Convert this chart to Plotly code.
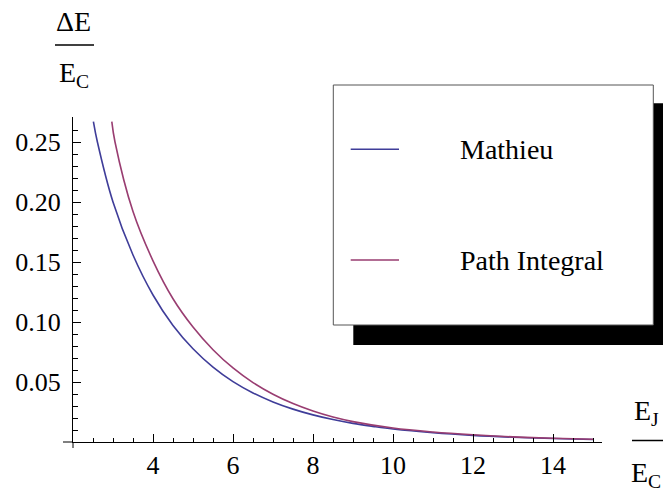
import plotly.graph_objects as go

# ---- data ----
mathieu_x = [2.51, 2.61, 3.0, 3.5, 4.0, 4.5, 5.0, 5.5, 6.0, 6.5, 7.0, 7.5, 8.0, 8.5, 9.0, 9.5, 10.0, 11.0, 12.0, 13.0, 14.0, 15.0]
mathieu_y = [0.267, 0.25, 0.20, 0.1558, 0.1225, 0.0971, 0.0777, 0.0624, 0.0503, 0.0409, 0.0334, 0.0274, 0.0226, 0.0187,
             0.0155, 0.0130, 0.0108, 0.0077, 0.0055, 0.0040, 0.0029, 0.0021]

path_x = [2.97, 3.05, 3.5, 4.0, 4.5, 5.0, 5.5, 6.0, 6.5, 7.0, 7.5, 8.0, 8.5, 9.0, 10.0, 11.0, 12.0, 13.0, 14.0, 15.0]
path_y = [0.267, 0.25, 0.192, 0.151, 0.1194, 0.0958, 0.0769, 0.0617, 0.0495, 0.0398, 0.0320, 0.0258, 0.0208, 0.0170,
          0.0116, 0.0083, 0.0060, 0.0043, 0.0031, 0.0023]

series_names = ["Mathieu", "Path Integral"]
series_colors = ["#3f3d99", "#993d71"]

x_ticks = [4, 6, 8, 10, 12, 14]
x_minor = [2.5, 3, 3.5, 4.5, 5, 5.5, 6.5, 7, 7.5, 8.5, 9, 9.5, 10.5, 11, 11.5, 12.5, 13, 13.5, 14.5, 15]
y_ticks = [0.05, 0.10, 0.15, 0.20, 0.25]
y_tick_text = ["0.05", "0.10", "0.15", "0.20", "0.25"]
y_minor = [round(0.01 * i, 2) for i in range(1, 28) if i % 5 != 0]

W, H = 663, 491
ML, MR, MT, MB = 73, 61, 117, 49
PW, PH = W - ML - MR, H - MT - MB
FONT = "Liberation Serif, Times New Roman, serif"


def px(xp):
    return (xp - ML) / PW


def py(yp):
    return (H - MB - yp) / PH


fig = go.Figure()
fig.add_trace(go.Scatter(x=mathieu_x, y=mathieu_y, mode="lines", name=series_names[0],
                         line=dict(color=series_colors[0], width=1.6, shape="spline", smoothing=1.0)))
fig.add_trace(go.Scatter(x=path_x, y=path_y, mode="lines", name=series_names[1],
                         line=dict(color=series_colors[1], width=1.6, shape="spline", smoothing=1.0)))

axis_common = dict(showline=True, linecolor="black", linewidth=1, showgrid=False, zeroline=False,
                   ticks="inside", ticklen=8, tickwidth=1, tickcolor="black", mirror=False,
                   automargin=False, tickfont=dict(family=FONT, size=26, color="black"))

fig.update_xaxes(range=[2, 2 + PW / 40.0], tickmode="array", tickvals=x_ticks,
                 ticklabelstandoff=0,
                 minor=dict(tickmode="array", tickvals=x_minor, ticks="inside", ticklen=4.5,
                            tickwidth=1, tickcolor="black", showgrid=False),
                 **axis_common)
fig.update_yaxes(range=[0, PH / 1200.0], tickmode="array", tickvals=y_ticks, ticktext=y_tick_text,
                 ticklabelstandoff=6,
                 minor=dict(tickmode="array", tickvals=y_minor, ticks="inside", ticklen=4.5,
                            tickwidth=1, tickcolor="black", showgrid=False),
                 **axis_common)

shapes = []
# axis overhangs past the crossing point
shapes.append(dict(type="line", xref="paper", yref="paper", x0=px(63), x1=0, y0=0, y1=0,
                   line=dict(color="black", width=1)))
shapes.append(dict(type="line", xref="paper", yref="paper", x0=0, x1=0, y0=py(448), y1=0,
                   line=dict(color="black", width=1)))
# legend shadow and box
shapes.append(dict(type="rect", xref="paper", yref="paper", x0=px(353.3), x1=px(690), y0=py(345), y1=py(103.3),
                   fillcolor="black", line=dict(width=0)))
shapes.append(dict(type="rect", xref="paper", yref="paper", x0=px(333.3), x1=px(653.3), y0=py(325), y1=py(85),
                   fillcolor="white", line=dict(color="#555555", width=1)))
# legend samples
for yp, col in zip([149.3, 260.0], series_colors):
    shapes.append(dict(type="line", xref="paper", yref="paper", x0=px(350.7), x1=px(399), y0=py(yp), y1=py(yp),
                       line=dict(color=col, width=1.6)))
# fraction bars of the axis labels
shapes.append(dict(type="line", xref="paper", yref="paper", x0=px(55), x1=px(94), y0=py(45), y1=py(45),
                   line=dict(color="black", width=1.5)))
shapes.append(dict(type="line", xref="paper", yref="paper", x0=px(632), x1=px(663), y0=py(440.5), y1=py(440.5),
                   line=dict(color="black", width=1.5)))

annotations = []
for yp, name in zip([149.3, 260.0], series_names):
    annotations.append(dict(text=name, xref="paper", yref="paper", x=px(458.3), y=py(yp),
                            xanchor="left", yanchor="middle", showarrow=False,
                            font=dict(family=FONT, size=28, color="black")))
label_font = dict(family=FONT, size=28, color="black")
annotations.append(dict(text="ΔE", xref="paper", yref="paper", x=px(73.5), y=py(21),
                        xanchor="center", yanchor="middle", showarrow=False, font=label_font))
annotations.append(dict(text="E<sub>C</sub>", xref="paper", yref="paper", x=px(73.5), y=py(74),
                        xanchor="center", yanchor="middle", showarrow=False, font=label_font))
annotations.append(dict(text="E<sub>J</sub>", xref="paper", yref="paper", x=px(646), y=py(412),
                        xanchor="center", yanchor="middle", showarrow=False, font=label_font))
annotations.append(dict(text="E<sub>C</sub>", xref="paper", yref="paper", x=px(646), y=py(474),
                        xanchor="center", yanchor="middle", showarrow=False, font=label_font))

fig.update_layout(width=W, height=H, margin=dict(l=ML, r=MR, t=MT, b=MB, pad=0),
                  paper_bgcolor="white", plot_bgcolor="white", showlegend=False,
                  font=dict(family=FONT, color="black"),
                  shapes=shapes, annotations=annotations)

fig.write_html("out.html")
